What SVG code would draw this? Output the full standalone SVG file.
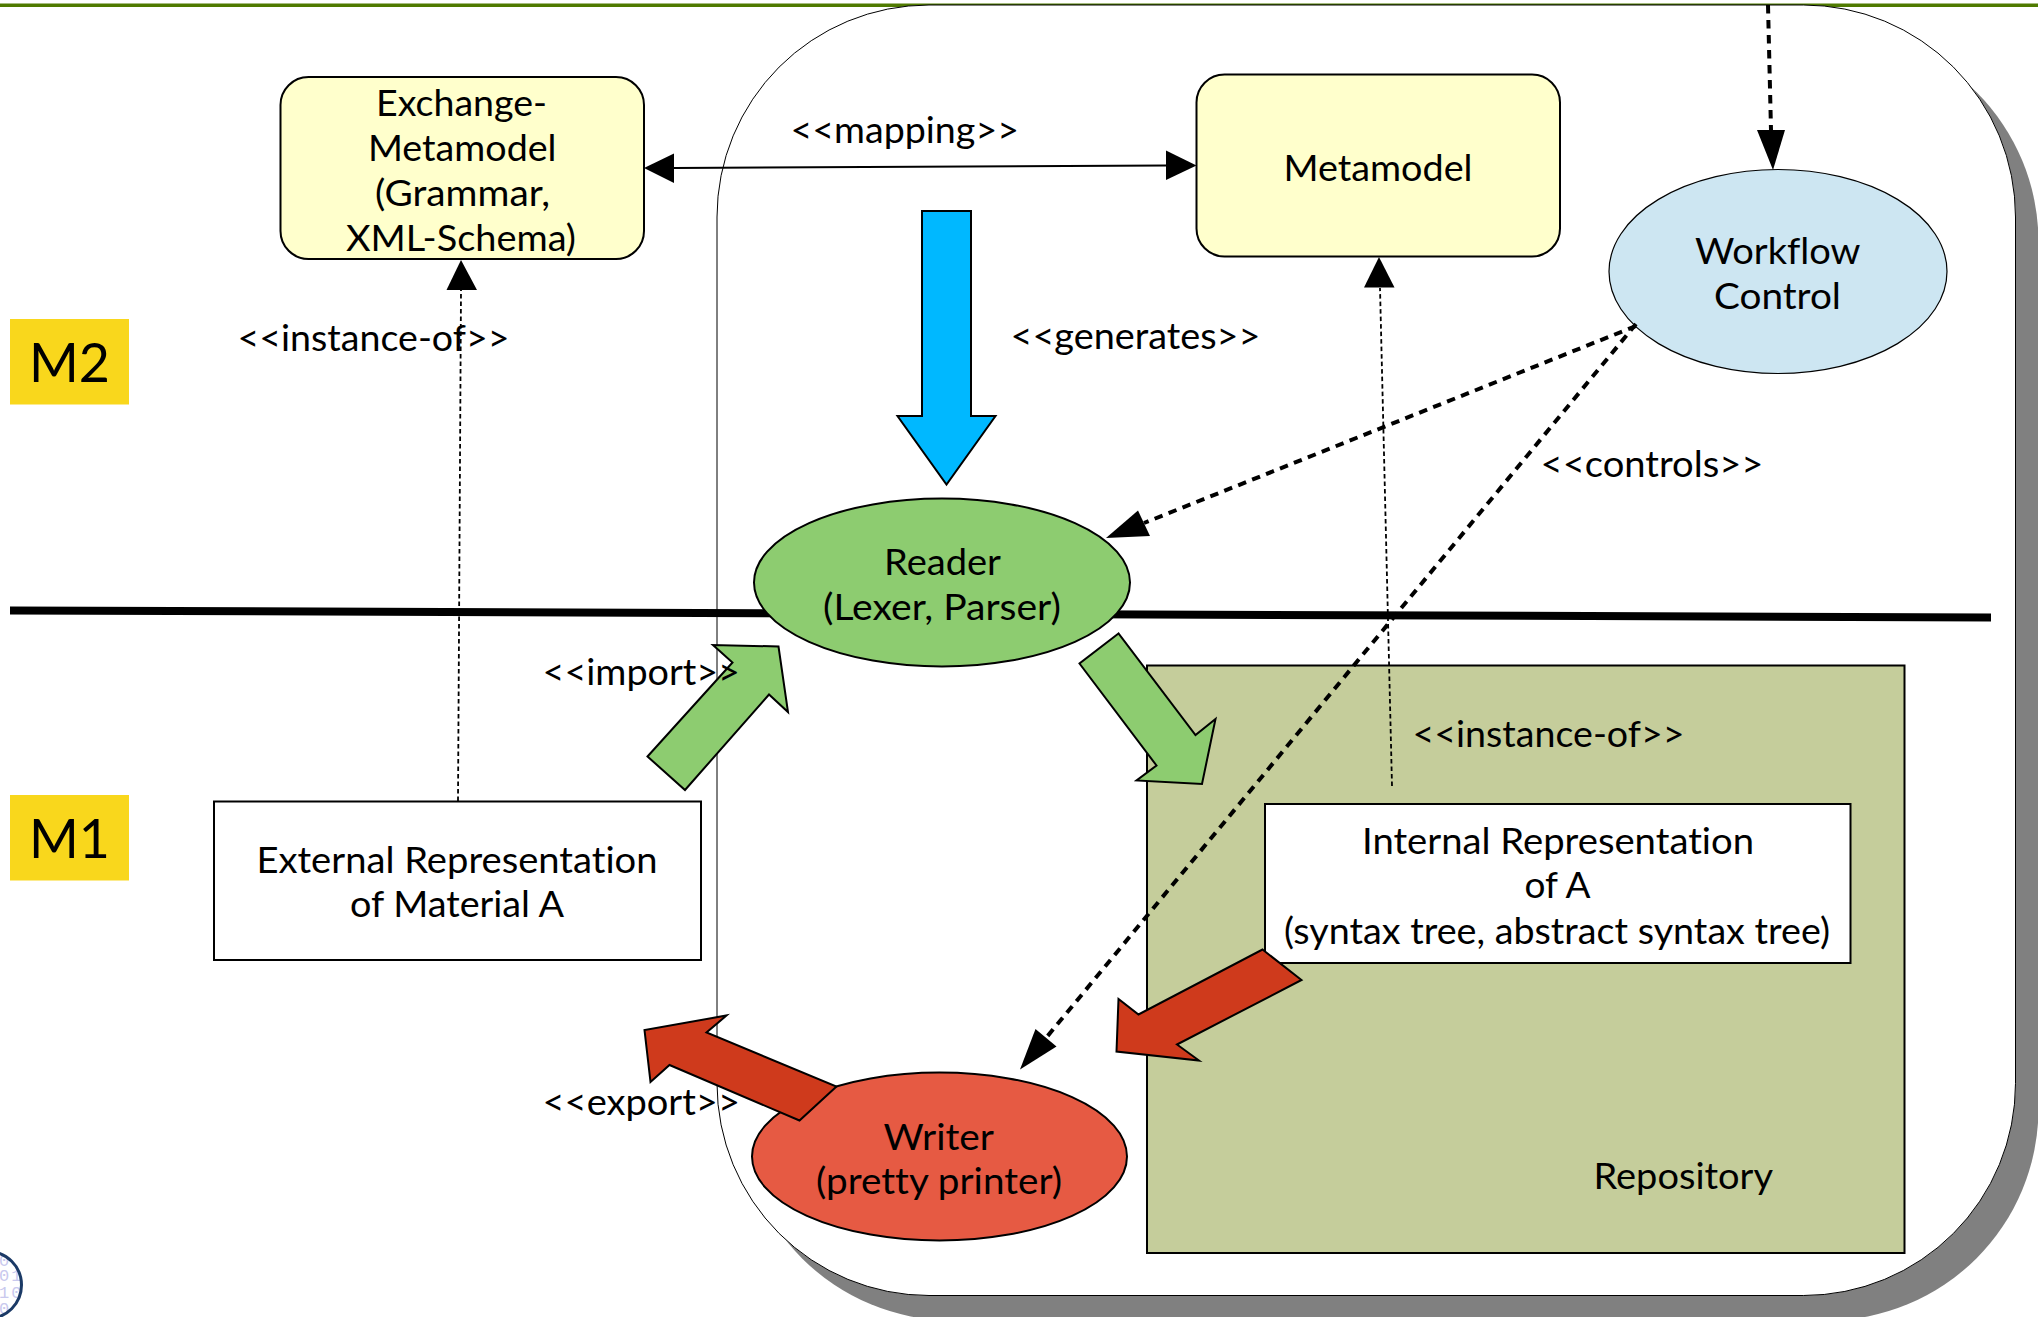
<svg xmlns="http://www.w3.org/2000/svg" width="2038" height="1317" viewBox="0 0 2038 1317">
<style>
text{font-family:"Lato","Liberation Sans",sans-serif;font-size:37px;fill:#000;font-variant-ligatures:none}
.n{stroke:#000;stroke-width:2}
.yl{fill:#ffffcc}
.blk{fill:#fff}
.fine{stroke:#000;stroke-width:1.2}
.ctl{fill:none;stroke:#000;stroke-width:4;stroke-dasharray:8.5 6.5}
.inst{fill:none;stroke:#000;stroke-width:1.8;stroke-dasharray:4.5 3}
.head{fill:#000;stroke:none}
.gr{fill:#8dcc70;stroke:#000;stroke-width:2}
.rd{fill:#cf3a1c;stroke:#000;stroke-width:2}
.lvl{fill:#f9d71c}
.lvlt{font-size:55px}
.dig{font-family:"Liberation Mono",monospace;font-size:17px;fill:#c9c9ee}
</style>
<defs>
<clipPath id="logoClip"><circle cx="-12" cy="1285" r="33"/></clipPath>
</defs>
<rect width="2038" height="1317" fill="#fff"/>
<rect id="topRule" x="0" y="3.5" width="2038" height="3.5" fill="#4f7a00"/>
<g id="frame">
<rect x="740" y="30" width="1298.5" height="1290.5" rx="212" ry="212" fill="#808080"/>
<rect x="717" y="5" width="1298.5" height="1290.5" rx="212" ry="212" fill="#fff" stroke="#000" stroke-width="1"/>
</g>
<g id="logo">
<g clip-path="url(#logoClip)">
<text class="dig" x="-1" y="1266">0 0</text>
<text class="dig" x="-1" y="1281" letter-spacing="2">01</text>
<text class="dig" x="-1" y="1298" letter-spacing="2">10</text>
<text class="dig" x="-1" y="1314" letter-spacing="2">00</text>
</g>
<circle cx="-12" cy="1285" r="33.5" fill="none" stroke="#1b3a66" stroke-width="3"/>
</g>
<g id="levelLine"><path d="M10 610.5L1991 617.5" stroke="#000" stroke-width="8" fill="none"/></g>
<g id="levelM2"><rect class="lvl" x="10" y="319" width="119" height="85.5"/><text class="lvlt" x="29" y="382" textLength="81" lengthAdjust="spacingAndGlyphs">M2</text></g>
<g id="levelM1"><rect class="lvl" x="10" y="795" width="119" height="85.5"/><text class="lvlt" x="29" y="857.5" textLength="81" lengthAdjust="spacingAndGlyphs">M1</text></g>
<g id="nodeExchange">
<rect class="n yl" x="280.5" y="77" width="363.5" height="182" rx="28" ry="28"/>
<text x="376" y="116" textLength="171" lengthAdjust="spacingAndGlyphs">Exchange-</text>
<text x="368" y="160.500" textLength="188.500" lengthAdjust="spacingAndGlyphs">Metamodel</text>
<text x="375" y="205.500" textLength="175" lengthAdjust="spacingAndGlyphs">(Grammar,</text>
<text x="346" y="250.500" textLength="230" lengthAdjust="spacingAndGlyphs">XML-Schema)</text>
</g>
<g id="nodeMetamodel">
<rect class="n yl" x="1196.5" y="74.5" width="363.5" height="182" rx="28" ry="28"/>
<text x="1283.500" y="181" textLength="189" lengthAdjust="spacingAndGlyphs">Metamodel</text>
</g>
<g id="nodeWorkflow">
<ellipse class="fine" cx="1778" cy="271.5" rx="169" ry="102" fill="#cde6f2"/>
<text x="1695" y="264" textLength="165.500" lengthAdjust="spacingAndGlyphs">Workflow</text>
<text x="1714" y="308.500" textLength="127" lengthAdjust="spacingAndGlyphs">Control</text>
</g>
<g id="nodeReader">
<ellipse class="n" cx="942" cy="582.500" rx="188" ry="84" fill="#8dcc70"/>
<text x="884" y="574.500" textLength="117" lengthAdjust="spacingAndGlyphs">Reader</text>
<text x="823" y="620" textLength="238" lengthAdjust="spacingAndGlyphs">(Lexer, Parser)</text>
</g>
<g id="nodeWriter">
<ellipse class="n" cx="939.500" cy="1156.500" rx="187.500" ry="84" fill="#e65a43"/>
<text x="883.500" y="1149.500" textLength="110.500" lengthAdjust="spacingAndGlyphs">Writer</text>
<text x="816" y="1193.500" textLength="246" lengthAdjust="spacingAndGlyphs">(pretty printer)</text>
</g>
<g id="nodeExternal">
<rect class="n blk" x="214" y="801.500" width="487" height="158.500"/>
<text x="256.500" y="872.500" textLength="401" lengthAdjust="spacingAndGlyphs">External Representation</text>
<text x="350" y="917" textLength="214" lengthAdjust="spacingAndGlyphs">of Material A</text>
</g>
<g id="nodeRepository">
<rect class="n" x="1147" y="665.500" width="757.500" height="587.500" fill="#c5cd9b"/>
<text x="1593.500" y="1189" textLength="179.500" lengthAdjust="spacingAndGlyphs">Repository</text>
</g>
<g id="nodeInternal">
<rect class="n blk" x="1265" y="804" width="585.500" height="159"/>
<text x="1362" y="853.500" textLength="392" lengthAdjust="spacingAndGlyphs">Internal Representation</text>
<text x="1524.500" y="898" textLength="66" lengthAdjust="spacingAndGlyphs">of A</text>
<text x="1284" y="943.500" textLength="546" lengthAdjust="spacingAndGlyphs">(syntax tree, abstract syntax tree)</text>
</g>
<g id="connectors">
<path d="M674 168L1166 165.500" stroke="#000" stroke-width="2" fill="none"/>
<polygon class="head" points="644,168 674,153.500 674,183"/>
<polygon class="head" points="1196.500,165.500 1166,150.500 1166,180"/>
<path class="inst" d="M458 801L461 290"/>
<polygon class="head" points="461,260 446.500,290 477,290"/>
<path class="inst" d="M1392 786L1380 288"/>
<polygon class="head" points="1379,257 1364,287.500 1394.500,287.500"/>
<path class="ctl" d="M1768 5L1771 130"/>
<polygon class="head" points="1773,170 1757,130 1785,130"/>
<path class="ctl" d="M1636 326L1144 523"/>
<polygon class="head" points="1106,538 1138,510.500 1150,536"/>
<path class="ctl" d="M1636 324L1046 1038"/>
<polygon class="head" points="1020,1069.500 1035.500,1029 1056.500,1046.500"/>
<polygon points="922,211 971,211 971,416 995.500,416 946.500,484.500 897.500,416 922,416" fill="#00b8ff" stroke="#000" stroke-width="2"/>
<polygon class="gr" points="647.500,756.500 685,790 769,694.500 788,712 778.500,646.500 713,645 732.500,662.500"/>
<polygon class="gr" points="1118.500,633.500 1079.500,663.500 1156.500,765.500 1136.500,780.500 1202,784 1215.500,719 1195.500,735"/>
<polygon class="rd" points="1262.500,949.500 1301.500,980 1177,1044.500 1199,1060.500 1116.500,1051.500 1118.500,999 1138.500,1014.500"/>
<polygon class="rd" points="836.500,1086.500 799.500,1120.500 669.500,1065 650.500,1082 644.500,1030 726.500,1015.500 706.500,1032.500"/>
</g>
<g id="labels">
<text x="790.500" y="142.500" textLength="228.500" lengthAdjust="spacingAndGlyphs">&lt;&lt;mapping&gt;&gt;</text>
<text x="1010.500" y="348.500" textLength="250" lengthAdjust="spacingAndGlyphs">&lt;&lt;generates&gt;&gt;</text>
<text x="237.500" y="350.500" textLength="272" lengthAdjust="spacingAndGlyphs">&lt;&lt;instance-of&gt;&gt;</text>
<text x="1540.500" y="476.500" textLength="223" lengthAdjust="spacingAndGlyphs">&lt;&lt;controls&gt;&gt;</text>
<text x="542.500" y="685" textLength="197.500" lengthAdjust="spacingAndGlyphs">&lt;&lt;import&gt;&gt;</text>
<text x="542.500" y="1114.500" textLength="197.500" lengthAdjust="spacingAndGlyphs">&lt;&lt;export&gt;&gt;</text>
<text x="1412.500" y="746.500" textLength="272" lengthAdjust="spacingAndGlyphs">&lt;&lt;instance-of&gt;&gt;</text>
</g>
</svg>
